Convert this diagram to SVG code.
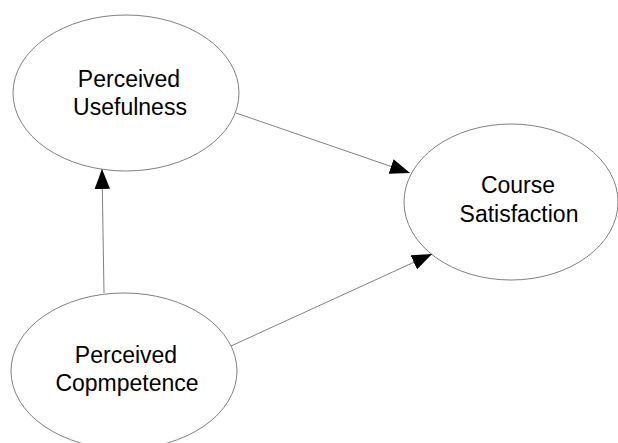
<svg xmlns="http://www.w3.org/2000/svg" width="618" height="443" viewBox="0 0 618 443">
<style>
.node ellipse{fill:#ffffff;stroke:#808080;stroke-width:1}
.node text{font-family:"Liberation Sans",Arial,sans-serif;font-size:23px;fill:#000000;text-anchor:middle}
.edges line{stroke:#808080;stroke-width:1;marker-end:url(#arr)}
</style>
<defs>
<marker id="arr" markerUnits="userSpaceOnUse" markerWidth="20" markerHeight="16" viewBox="0 0 18 14" refX="18" refY="7" orient="auto">
<path d="M0,0 L18,7 L0,14 Z" fill="#000000"/>
</marker>
</defs>
<rect width="618" height="443" fill="#ffffff"/>
<g id="pu" class="node">
<ellipse cx="126" cy="93" rx="113" ry="78"/>
<text x="129" y="87">Perceived</text>
<text x="130" y="115">Usefulness</text>
</g>
<g id="cs" class="node">
<ellipse cx="511" cy="202" rx="107" ry="78"/>
<text x="518" y="193">Course</text>
<text x="519" y="222">Satisfaction</text>
</g>
<g id="pc" class="node">
<ellipse cx="124" cy="371" rx="113" ry="78"/>
<text x="126" y="363">Perceived</text>
<text x="127" y="391">Copmpetence</text>
</g>
<g id="edges" class="edges">
<line x1="104" y1="293" x2="102" y2="169"/>
<line x1="236" y1="113" x2="410" y2="173"/>
<line x1="231" y1="346" x2="432" y2="254"/>
</g>
</svg>
